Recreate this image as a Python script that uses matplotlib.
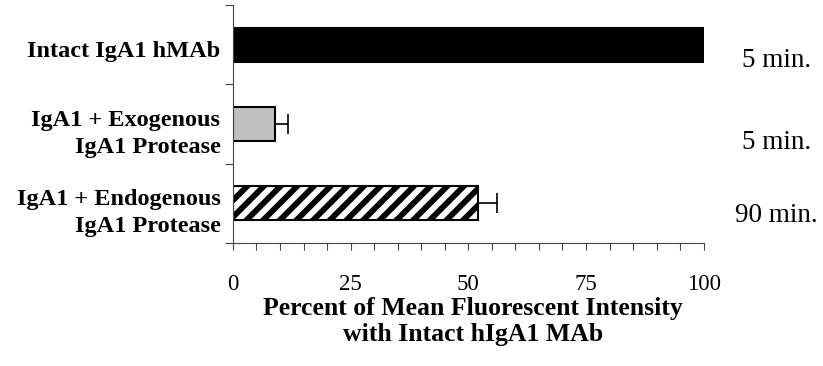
import matplotlib.pyplot as plt

plt.rcParams['font.family'] = ['Liberation Serif', 'DejaVu Serif']
plt.rcParams['hatch.linewidth'] = 4.2

labels = ['Intact IgA1 hMAb', 'IgA1 + Exogenous\nIgA1 Protease', 'IgA1 + Endogenous\nIgA1 Protease']
values = [100, 8.9, 52.0]
errors = [0, 2.8, 4.2]
times = ['5 min.', '5 min.', '90 min.']
colors = ['black', '#c0c0c0', 'white']
hatches = ['', '', '//']


def do_plot():
    f = plt.figure(figsize=(8.23, 3.66), dpi=100)
    ax = f.add_axes([0.283, 0.336, 0.572, 0.650])
    ypos = [2.5, 1.5, 0.5]
    for y, v, e, c, h in zip(ypos, values, errors, colors, hatches):
        ax.barh(y, v, height=0.43, color=c, edgecolor='black', linewidth=1.5, hatch=h, zorder=2)
        if e > 0:
            ax.errorbar(v, y, xerr=[[0], [e]], fmt='none', ecolor='black',
                        elinewidth=1.2, capsize=7, capthick=1.2, zorder=3)
    # time labels sit a little below each bar's centre
    for y, t, dy in zip(ypos, times, [0.2, 0.23, 0.15]):
        ax.text(1.155, y - dy, t, transform=ax.get_yaxis_transform(), ha='center', va='center',
                fontsize=19.5, clip_on=False)

    ax.set_xlim(0, 100)
    ax.set_ylim(0, 3)
    ax.set_xticks([0, 25, 50, 75, 100])
    ax.set_xticks(range(0, 101, 5), minor=True)
    ax.set_yticks([0, 1, 2, 3])
    ax.set_yticklabels([])
    ax.set_yticks([y - 0.05 for y in ypos], minor=True)
    ax.set_yticklabels(labels, minor=True, fontweight='bold', fontsize=17.5, ha='right',
                       linespacing=1.4, multialignment='right')
    ax.tick_params(axis='y', which='minor', length=0, pad=9)
    ax.tick_params(axis='y', which='major', length=6, width=0.8, color='#444444')
    ax.tick_params(axis='x', which='both', length=5, width=0.8, color='#444444', labelsize=16.5, pad=17)
    for s in ['top', 'right']:
        ax.spines[s].set_visible(False)
    for s in ['left', 'bottom']:
        ax.spines[s].set_color('#444444')
        ax.spines[s].set_linewidth(0.8)
    ax.set_xlabel('Percent of Mean Fluorescent Intensity\nwith Intact hIgA1 MAb',
                  fontweight='bold', fontsize=18.5, labelpad=2, linespacing=1.15)
    ax.xaxis.label.set_x(0.51)
    plt.savefig('out.png', dpi=100)


if __name__ == '__main__':
    do_plot()
